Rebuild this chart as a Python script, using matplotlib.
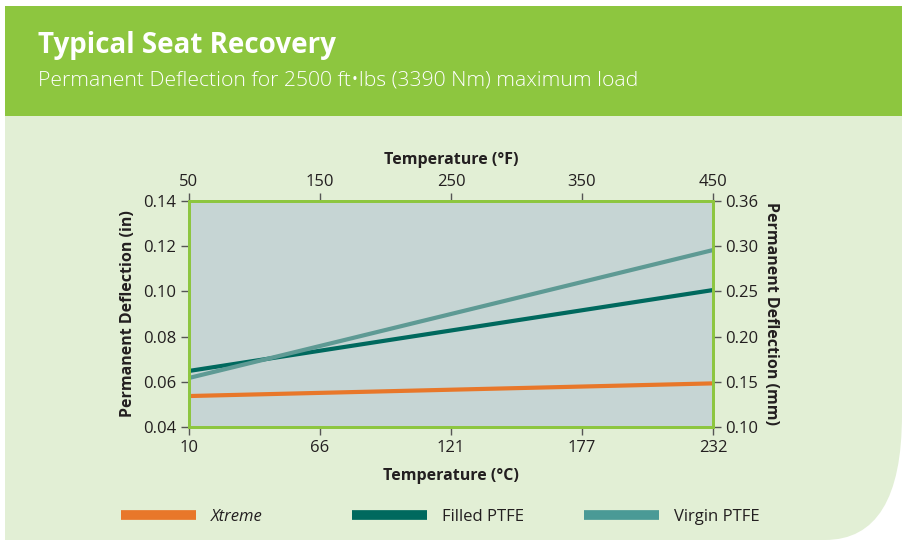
import matplotlib.pyplot as plt
from matplotlib.patches import Rectangle, PathPatch
from matplotlib.path import Path
from matplotlib.lines import Line2D

# data
temp_f = [50, 450]
xtreme = [0.0537, 0.0593]
filled_ptfe = [0.0648, 0.1006]
virgin_ptfe = [0.0617, 0.1183]

f_ticks = [50, 150, 250, 350, 450]
c_tick_labels = ['10', '66', '121', '177', '232']
in_ticks = [0.04, 0.06, 0.08, 0.10, 0.12, 0.14]
mm_tick_labels = ['0.10', '0.15', '0.20', '0.25', '0.30', '0.36']

series_names = ['Xtreme', 'Filled PTFE', 'Virgin PTFE']

GREEN = '#8DC63F'
PANEL = '#E2EFD5'
FACE = '#C6D5D4'
ORANGE = '#E8772A'
DARK_TEAL = '#00695E'
LIGHT_TEAL = '#5E9A94'
LEG_TEAL = '#4A9A96'
TEXT = '#231F20'
TICK_SIZE = 12

plt.rcParams['font.family'] = ['Open Sans', 'DejaVu Sans']

W, H = 902, 540
fig = plt.figure(figsize=(W / 100, H / 100), dpi=100)
fig.patch.set_facecolor('white')


def px(x, y):
    # pixel position -> figure fraction
    return (x / W, 1 - y / H)


# background panel with rounded bottom-right corner
verts = [px(5, 116), px(902, 116), px(902, 415), px(902, 540), px(825, 540),
         px(5, 540), px(5, 116)]
codes = [Path.MOVETO, Path.LINETO, Path.LINETO, Path.CURVE3, Path.CURVE3,
         Path.LINETO, Path.CLOSEPOLY]
fig.add_artist(PathPatch(Path(verts, codes), transform=fig.transFigure,
                         facecolor=PANEL, edgecolor='none', zorder=0))
fig.add_artist(Rectangle(px(5, 116), (W - 5) / W, 110 / H, transform=fig.transFigure,
                         facecolor=GREEN, edgecolor='none', zorder=0))

fig.text(38 / W, 1 - 46 / H, 'Typical Seat Recovery', color='white', fontsize=20,
         fontweight='bold', va='center', ha='left')
fig.text(38 / W, 1 - 80 / H, 'Permanent Deflection for 2500 ft\u2022lbs (3390 Nm) maximum load',
         color='white', fontsize=15.2, fontweight='light', va='center', ha='left')

# main axes
ax = fig.add_axes([189 / W, 1 - 427 / H, (713 - 189) / W, (427 - 201) / H])
ax.set_facecolor(FACE)
ax.plot(temp_f, xtreme, color=ORANGE, lw=3, solid_capstyle='butt')
ax.plot(temp_f, filled_ptfe, color=DARK_TEAL, lw=3, solid_capstyle='butt')
ax.plot(temp_f, virgin_ptfe, color=LIGHT_TEAL, lw=3, solid_capstyle='butt')
ax.set_xlim(50, 450)
ax.set_ylim(0.04, 0.14)

for s in ax.spines.values():
    s.set_color(GREEN)
    s.set_linewidth(2)

ax.set_yticks(in_ticks)
ax.set_yticklabels([f'{v:.2f}' for v in in_ticks])
ax.set_xticks(f_ticks)
ax.set_xticklabels(c_tick_labels)
ax.tick_params(axis='both', direction='out', length=6, width=1, color='#555555',
               labelsize=TICK_SIZE, labelcolor=TEXT, pad=3)
ax.set_xlabel('Temperature (\u00b0C)', fontsize=11.5, fontweight='bold', color=TEXT, labelpad=9)
ax.set_ylabel('Permanent Deflection (in)', fontsize=11.5, fontweight='bold', color=TEXT, labelpad=5)

# top axis in Fahrenheit
top = ax.secondary_xaxis('top')
top.set_xticks(f_ticks)
top.set_xticklabels([str(v) for v in f_ticks])
top.tick_params(direction='out', length=6, width=1, color='#555555',
                labelsize=TICK_SIZE, labelcolor=TEXT, pad=2)
top.set_xlabel('Temperature (\u00b0F)', fontsize=11.5, fontweight='bold', color=TEXT, labelpad=7)
top.spines['top'].set_visible(False)

# right axis in mm
right = ax.twinx()
right.set_ylim(ax.get_ylim())
right.set_yticks(in_ticks)
right.set_yticklabels(mm_tick_labels)
right.tick_params(direction='out', length=6, width=1, color='#555555',
                  labelsize=TICK_SIZE, labelcolor=TEXT, pad=3)
right.set_ylabel('Permanent Deflection (mm)', fontsize=11.5, fontweight='bold', color=TEXT,
                 rotation=-90, labelpad=15)
for s in right.spines.values():
    s.set_color(GREEN)
    s.set_linewidth(2)

# legend across the bottom, one entry per slot
leg_colors = [ORANGE, DARK_TEAL, LEG_TEAL]
leg_x = [121, 352, 584]
for name, col, x0 in zip(series_names, leg_colors, leg_x):
    h = Line2D([], [], color=col, lw=7, solid_capstyle='butt')
    leg = fig.legend([h], [name], loc='center left', bbox_to_anchor=px(x0, 517),
                     frameon=False, fontsize=12, handlelength=4.5, handletextpad=0.9,
                     borderaxespad=0, borderpad=0)
    t = leg.get_texts()[0]
    t.set_color(TEXT)
    if name == 'Xtreme':
        t.set_fontstyle('italic')

fig.savefig('out.png', dpi=100, facecolor=fig.get_facecolor())
